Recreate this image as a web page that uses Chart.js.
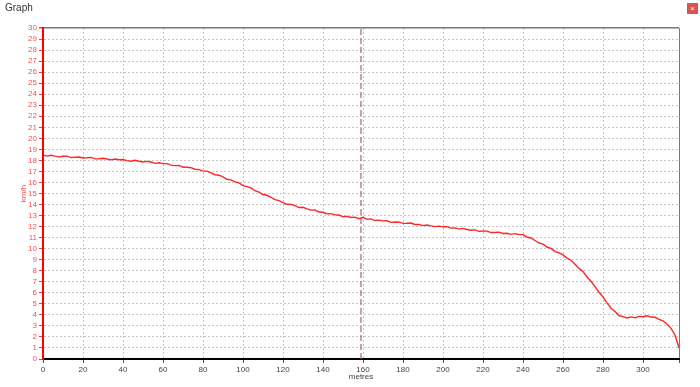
<!DOCTYPE html>
<html>
<head>
<meta charset="utf-8">
<script src="https://cdn.jsdelivr.net/npm/chart.js@4/dist/chart.umd.min.js"></script>
<style>
  body { margin: 0; background: #fff; }
  #wrap { position: relative; width: 700px; height: 387px; font-family: "Liberation Sans", Arial, sans-serif; }
  #title { position: absolute; left: 5px; top: 2px; font-size: 10px; color: #333; }
  #close { position: absolute; left: 687px; top: 3px; width: 11px; height: 11px; background: #d9534f; color: #fff; font-size: 8px; line-height: 11px; text-align: center; }
  #graph { position: absolute; left: 0; top: 0; }
</style>
</head>
<body>
<div id="wrap">
  <canvas id="graph" width="700" height="387"></canvas>
  <div id="title">Graph</div>
  <div id="close">×</div>
</div>
<script>
// distance along the run (metres)
const metres = [
  0, 2, 4, 6, 8, 10, 12, 14, 16, 18, 20, 22, 24, 26, 28, 30, 32, 34, 36, 38,
  40, 42, 44, 46, 48, 50, 52, 54, 56, 58, 60, 62, 64, 66, 68, 70, 72, 74, 76, 78,
  80, 82, 84, 86, 88, 90, 92, 94, 96, 98, 100, 102, 104, 106, 108, 110, 112, 114, 116, 118,
  120, 122, 124, 126, 128, 130, 132, 134, 136, 138, 140, 142, 144, 146, 148, 150, 152, 154, 156, 158,
  160, 162, 164, 166, 168, 170, 172, 174, 176, 178, 180, 182, 184, 186, 188, 190, 192, 194, 196, 198,
  200, 202, 204, 206, 208, 210, 212, 214, 216, 218, 220, 222, 224, 226, 228, 230, 232, 234, 236, 238,
  240, 242, 244, 246, 248, 250, 252, 254, 256, 258, 260, 262, 264, 266, 268, 270, 272, 274, 276, 278,
  280, 282, 284, 286, 288, 290, 292, 294, 296, 298, 300, 302, 304, 306, 308, 310, 312, 314, 316, 318
];
// speed (km/h)
const speed = [
  18.48, 18.39, 18.47, 18.39, 18.32, 18.37, 18.38, 18.25, 18.29, 18.31, 18.22, 18.24, 18.27, 18.14, 18.15, 18.20, 18.13, 18.05, 18.12, 18.06,
  18.08, 17.98, 17.93, 18.01, 17.92, 17.85, 17.91, 17.85, 17.73, 17.78, 17.71, 17.71, 17.57, 17.53, 17.55, 17.38, 17.38, 17.34, 17.20, 17.16,
  17.05, 17.03, 16.87, 16.70, 16.66, 16.51, 16.29, 16.24, 16.06, 15.96, 15.72, 15.62, 15.50, 15.25, 15.12, 14.91, 14.84, 14.64, 14.44, 14.36,
  14.18, 14.02, 14.01, 13.90, 13.73, 13.75, 13.61, 13.49, 13.50, 13.32, 13.30, 13.15, 13.17, 13.06, 13.05, 12.89, 12.93, 12.83, 12.86, 12.72,
  12.84, 12.66, 12.70, 12.55, 12.59, 12.52, 12.53, 12.38, 12.42, 12.40, 12.29, 12.30, 12.32, 12.19, 12.20, 12.09, 12.15, 12.07, 12.00, 12.04,
  11.98, 11.99, 11.86, 11.88, 11.77, 11.84, 11.74, 11.67, 11.70, 11.57, 11.60, 11.59, 11.46, 11.47, 11.50, 11.38, 11.40, 11.30, 11.36, 11.29,
  11.27, 11.06, 10.97, 10.74, 10.51, 10.41, 10.15, 10.02, 9.73, 9.63, 9.43, 9.14, 8.95, 8.59, 8.21, 7.93, 7.43, 7.05, 6.56, 6.05,
  5.62, 5.08, 4.60, 4.30, 3.94, 3.84, 3.72, 3.82, 3.74, 3.86, 3.83, 3.92, 3.80, 3.78, 3.60, 3.46, 3.16, 2.78, 2.18, 1.00
];
const cursorAt = 159;
const xMax = 318;
const yMax = 30;

const ctx = document.querySelector('#graph').getContext('2d');

new Chart(ctx, {
    type: 'line',
    data: {
        datasets: [
            {
                label: 'speed',
                data: metres.map((m, i) => ({ x: m, y: speed[i] })),
                borderColor: 'rgba(255,0,0,0.85)',
                borderWidth: 1.4,
                pointRadius: 0,
                tension: 0
            },
            {
                label: 'cursor',
                data: [{ x: cursorAt, y: 0 }, { x: cursorAt, y: yMax }],
                borderColor: 'rgba(170,90,90,0.75)',
                borderWidth: 1.5,
                borderDash: [6, 3],
                pointRadius: 0
            }
        ]
    },
    options: {
        responsive: false,
        animation: false,
        layout: { padding: { top: 28, right: 21, left: 0, bottom: 0 } },
        plugins: { legend: { display: false }, tooltip: { enabled: false } },
        scales: {
            x: {
                type: 'linear',
                min: 0,
                max: xMax,
                afterFit: s => { s.height = 28; },
                afterBuildTicks: s => {
                    s.ticks = s.ticks.filter(t => t.value % 20 === 0);
                    s.ticks.push({ value: xMax });
                },
                ticks: {
                    stepSize: 20,
                    autoSkip: false,
                    maxRotation: 0,
                    padding: 2,
                    color: '#444',
                    font: { family: 'Liberation Sans', size: 8 },
                    callback: v => (v % 20 === 0 ? v : '')
                },
                grid: {
                    color: c => (c.tick && c.tick.value === xMax ? '#777' : '#c4c4c4'),
                    tickColor: '#555',
                    tickLength: 4
                },
                border: {
                    color: '#000',
                    width: 2,
                    dash: c => (c.tick && c.tick.value === xMax ? [] : [2, 2])
                },
                title: {
                    display: true,
                    text: 'metres',
                    color: '#444',
                    font: { family: 'Liberation Sans', size: 8 },
                    padding: { top: 0, bottom: 5 }
                }
            },
            y: {
                min: 0,
                max: yMax,
                afterFit: s => { s.width = 43; },
                ticks: {
                    stepSize: 1,
                    autoSkip: false,
                    padding: 2,
                    color: '#ff5050',
                    font: { family: 'Liberation Sans', size: 8 }
                },
                grid: {
                    color: c => (c.tick && c.tick.value === yMax ? '#777' : '#c4c4c4'),
                    lineWidth: c => (c.tick && c.tick.value === yMax ? 1.5 : 1),
                    tickColor: '#ff3030',
                    tickLength: 4
                },
                border: {
                    color: '#ff0000',
                    width: 2,
                    dash: c => (c.tick && c.tick.value === yMax ? [] : [2, 2])
                },
                title: {
                    display: true,
                    text: 'km/h',
                    color: '#ff5050',
                    font: { family: 'Liberation Sans', size: 8 },
                    padding: { top: 19, bottom: 0 }
                }
            }
        }
    }
});
</script>
</body>
</html>
